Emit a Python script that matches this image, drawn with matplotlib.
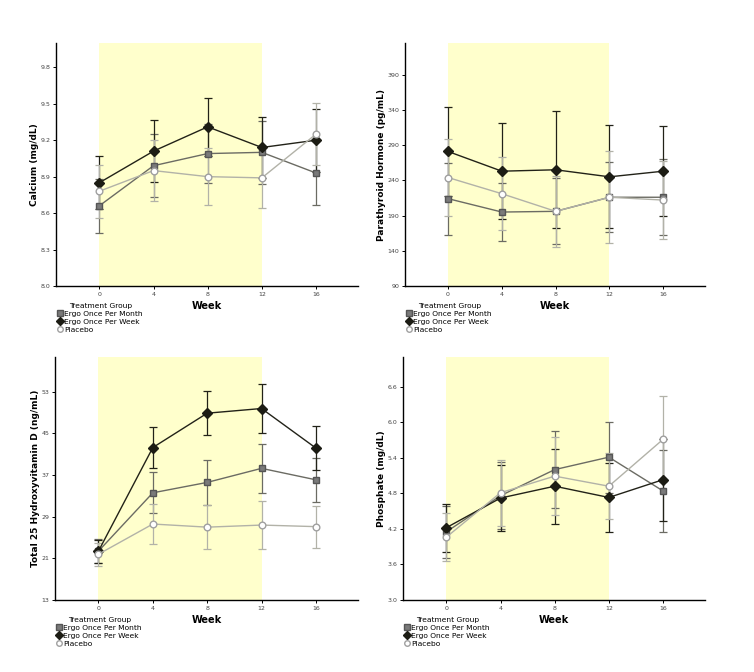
import numpy as np
import matplotlib
matplotlib.use("Agg")
import matplotlib.pyplot as plt
from matplotlib.lines import Line2D

# Data (means and half-width of error bars)
weeks = [0, 4, 8, 12, 16]
groups = ['Ergo Once Per Month', 'Ergo Once Per Week', 'Placebo']

calcium_month = [8.66, 8.99, 9.09, 9.10, 8.93]
calcium_week = [8.85, 9.11, 9.31, 9.14, 9.20]
calcium_placebo = [8.78, 8.95, 8.90, 8.89, 9.25]
calcium_month_err = [0.22, 0.26, 0.245, 0.26, 0.26]
calcium_week_err = [0.22, 0.255, 0.24, 0.25, 0.26]
calcium_placebo_err = [0.22, 0.25, 0.235, 0.25, 0.255]

pth_month = [214, 195, 196, 216, 216]
pth_week = [281, 253, 255, 245, 253]
pth_placebo = [244, 221, 196, 216, 212]
pth_month_err = [51, 41, 47, 50, 54]
pth_week_err = [63, 68, 83, 73, 64]
pth_placebo_err = [55, 52, 50, 65, 55]

vitd_month = [22.4, 33.6, 35.6, 38.3, 36.1]
vitd_week = [22.4, 42.3, 48.9, 49.8, 42.2]
vitd_placebo = [21.8, 27.6, 27.0, 27.4, 27.1]
vitd_month_err = [2.25, 3.95, 4.4, 4.75, 4.2]
vitd_week_err = [2.2, 3.95, 4.2, 4.75, 4.3]
vitd_placebo_err = [2.2, 3.9, 4.2, 4.6, 4.05]

phos_month = [4.15, 4.76, 5.20, 5.41, 4.84]
phos_week = [4.22, 4.72, 4.92, 4.73, 5.03]
phos_placebo = [4.06, 4.81, 5.09, 4.92, 5.71]
phos_month_err = [0.44, 0.56, 0.645, 0.60, 0.69]
phos_week_err = [0.405, 0.56, 0.635, 0.58, 0.69]
phos_placebo_err = [0.41, 0.56, 0.655, 0.56, 0.725]

calcium_ticks = [8.0, 8.3, 8.6, 8.9, 9.2, 9.5, 9.8]
pth_ticks = [90, 140, 190, 240, 290, 340, 390]
vitd_ticks = [13, 21, 29, 37, 45, 53]
phos_ticks = [3.0, 3.6, 4.2, 4.8, 5.4, 6.0, 6.6]

# styles for the three groups
styles = [
    dict(marker='s', ms=4.8, mfc='#7a7a7a', mec='#555555', color='#6b6b63', ecolor='#6b6b63'),
    dict(marker='D', ms=5.0, mfc='#1c1c14', mec='#1c1c14', color='#222218', ecolor='#222218'),
    dict(marker='o', ms=4.8, mfc='white', mec='#a0a0a0', color='#b2b2a8', ecolor='#b2b2a8'),
]


def draw_panel(rect, means, errs, ylabel, ylim, yticks, fmt):
    ax = fig.add_axes(rect)
    ax.axvspan(0, 12, color='#ffffcc', zorder=0, lw=0)
    for m, e, st in zip(means, errs, styles):
        ax.errorbar(weeks, m, yerr=e, marker=st['marker'], ms=st['ms'],
                    mfc=st['mfc'], mec=st['mec'], color=st['color'],
                    ecolor=st['ecolor'], elinewidth=0.9, capsize=3,
                    capthick=0.9, lw=1.0, zorder=3)
    ax.set_xlim(-3.2, 19.1)
    ax.set_ylim(*ylim)
    ax.set_xticks(weeks)
    ax.set_yticks(yticks)
    ax.set_yticklabels([fmt.format(t) for t in yticks])
    ax.tick_params(labelsize=4.5, length=2.5, width=0.7, labelcolor='#444444', pad=1.5)
    for s in ['top', 'right']:
        ax.spines[s].set_visible(False)
    for s in ['left', 'bottom']:
        ax.spines[s].set_linewidth(1.0)
    ax.set_ylabel(ylabel, fontsize=6.5, fontweight='bold', labelpad=1)
    ax.set_xlabel('Week', fontsize=7, fontweight='bold', labelpad=3)

    handles = [Line2D([], [], ls='none', marker=st['marker'], ms=4,
                      mfc=st['mfc'], mec=st['mec']) for st in styles]
    leg = ax.legend(handles, groups, title='Treatment Group', loc='upper left',
                    bbox_to_anchor=(0.005, -0.07), frameon=False, fontsize=5.4,
                    title_fontsize=5.4, handlelength=0.6, handletextpad=0.3,
                    labelspacing=0.22, borderpad=0, borderaxespad=0)
    leg._legend_box.align = 'center'
    return ax


fig = plt.figure(figsize=(7.54, 6.72), dpi=100)

draw_panel([56 / 754, 1 - 286 / 672, 302 / 754, 243 / 672],
           [calcium_month, calcium_week, calcium_placebo],
           [calcium_month_err, calcium_week_err, calcium_placebo_err],
           'Calcium (mg/dL)', (8.0, 10.0), calcium_ticks, '{:.1f}')
draw_panel([405 / 754, 1 - 286 / 672, 300 / 754, 243 / 672],
           [pth_month, pth_week, pth_placebo],
           [pth_month_err, pth_week_err, pth_placebo_err],
           'Parathyroid Hormone (pg/mL)', (90, 435), pth_ticks, '{:d}')
draw_panel([55 / 754, 1 - 600 / 672, 303 / 754, 243 / 672],
           [vitd_month, vitd_week, vitd_placebo],
           [vitd_month_err, vitd_week_err, vitd_placebo_err],
           'Total 25 Hydroxyvitamin D (ng/mL)', (13, 59.7), vitd_ticks, '{:d}')
draw_panel([403 / 754, 1 - 600 / 672, 302 / 754, 243 / 672],
           [phos_month, phos_week, phos_placebo],
           [phos_month_err, phos_week_err, phos_placebo_err],
           'Phosphate (mg/dL)', (3.0, 7.1), phos_ticks, '{:.1f}')

fig.savefig('out.png', dpi=100)
